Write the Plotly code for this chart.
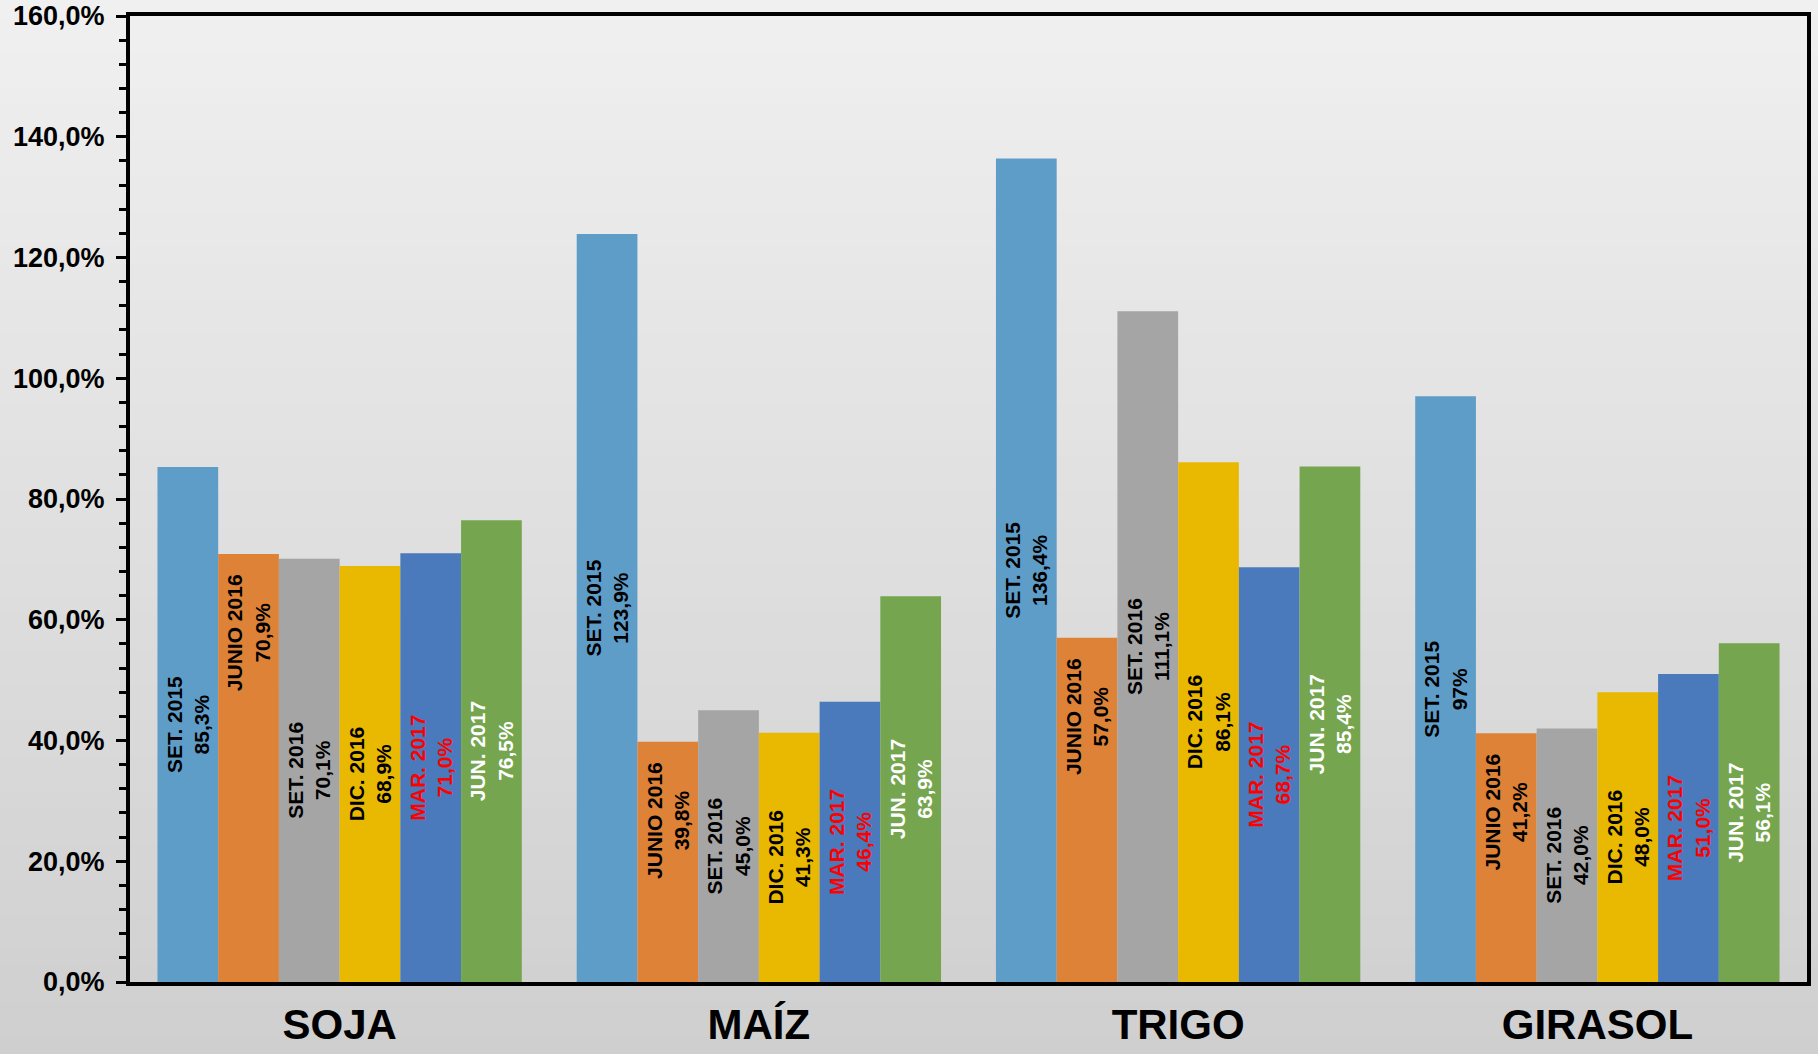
import plotly.graph_objects as go

categories = ["SOJA", "MAÍZ", "TRIGO", "GIRASOL"]

series_names = ["SET. 2015", "JUNIO 2016", "SET. 2016", "DIC. 2016", "MAR. 2017", "JUN. 2017"]
set_2015 = [85.3, 123.9, 136.4, 97]
junio_2016 = [70.9, 39.8, 57.0, 41.2]
set_2016 = [70.1, 45.0, 111.1, 42.0]
dic_2016 = [68.9, 41.3, 86.1, 48.0]
mar_2017 = [71.0, 46.4, 68.7, 51.0]
jun_2017 = [76.5, 63.9, 85.4, 56.1]
series_values = [set_2015, junio_2016, set_2016, dic_2016, mar_2017, jun_2017]

bar_colors = ["#5f9dc9", "#dd8237", "#a5a5a5", "#e8b900", "#4a7abb", "#75a54f"]
label_colors = ["black", "black", "black", "black", "#ff0000", "white"]
anchors = ["middle", "end", "middle", "middle", "middle", "middle"]
pads = ["", "\u00a0\u00a0\u00a0", "", "", "", ""]


def fmt(v):
    if isinstance(v, int):
        return f"{v}%"
    return f"{v:.1f}".replace(".", ",") + "%"


fig = go.Figure()
for name, vals, col, lcol, anc, pad in zip(series_names, series_values, bar_colors, label_colors, anchors, pads):
    fig.add_trace(go.Bar(
        name=name,
        x=categories,
        y=vals,
        marker=dict(color=col, line=dict(width=0)),
        text=[f"{name}{pad}<br>{fmt(v)}{pad}" for v in vals],
        textposition="inside",
        insidetextanchor=anc,
        textangle=-90,
        constraintext="none",
        textfont=dict(family="Arial, Liberation Sans, sans-serif", size=21, color=lcol, weight="bold"),
        hoverinfo="skip",
    ))

# background gradient (light top -> darker bottom), drawn as horizontal bands over the whole figure
W, H = 1818, 1054
ml, mr, mt, mb = 130, 11, 16, 72
ph = H - mt - mb
pw = W - ml - mr
n = 60
top_c = (240, 240, 240)
bot_c = (207, 207, 207)
shapes = []
for i in range(n):
    py0 = H * i / n
    py1 = H * (i + 1) / n + 1
    t = (i + 0.5) / n
    c = tuple(int(round(top_c[k] + (bot_c[k] - top_c[k]) * t)) for k in range(3))
    shapes.append(dict(
        type="rect", xref="paper", yref="paper",
        x0=-ml / pw - 0.01, x1=1 + mr / pw + 0.01,
        y0=(H - mb - py1) / ph, y1=(H - mb - py0) / ph,
        fillcolor=f"rgb{c}", line=dict(width=0), layer="below",
    ))

fig.update_layout(
    width=W, height=H,
    margin=dict(l=ml, r=mr, t=mt, b=mb, autoexpand=False),
    paper_bgcolor="rgb(225,225,225)",
    plot_bgcolor="rgba(0,0,0,0)",
    barmode="group",
    bargap=0.131,
    bargroupgap=0,
    showlegend=False,
    separators=",.",
    shapes=shapes,
    font=dict(family="Arial, Liberation Sans, sans-serif", color="black"),
)

fig.update_xaxes(
    showline=True, linecolor="black", linewidth=4, mirror=True,
    ticks="", showgrid=False, automargin=False,
    tickfont=dict(size=42, color="black", weight="bold"),
    ticklabelstandoff=3,
)
fig.update_yaxes(
    range=[0, 160], dtick=20, tick0=0,
    showline=True, linecolor="black", linewidth=4, mirror=True,
    ticks="outside", ticklen=10, tickwidth=3, tickcolor="black",
    minor=dict(dtick=4, ticks="outside", ticklen=7, tickwidth=3, tickcolor="black", showgrid=False),
    showgrid=False, zeroline=False, automargin=False,
    tickformat=".1f", ticksuffix="%",
    tickfont=dict(size=27, color="black", weight="bold"),
    ticklabelstandoff=6,
)

fig.write_html(
    "out.html",
    config={"displayModeBar": False},
    post_script="document.body.style.margin='0';document.body.style.overflow='hidden';",
)
